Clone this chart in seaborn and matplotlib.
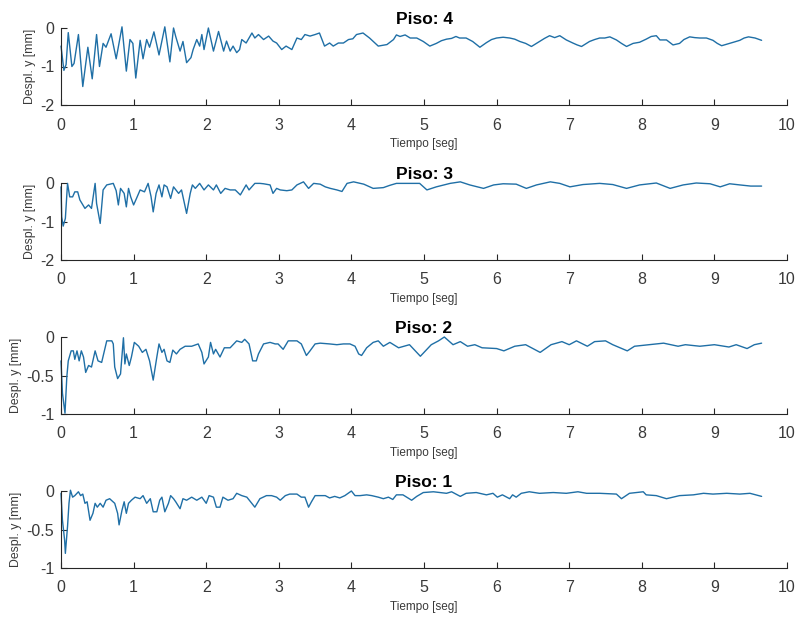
import matplotlib
matplotlib.use("Agg")
import matplotlib.pyplot as plt
import seaborn as sns
import pandas as pd

# ---------------- data (vertices) ----------------
t_piso4 = [0.00, 0.04, 0.07, 0.10, 0.15, 0.18, 0.24, 0.30, 0.37, 0.43,
           0.49, 0.53, 0.58, 0.62, 0.69, 0.76, 0.84, 0.90, 0.95, 0.99,
           1.03, 1.09, 1.13, 1.18, 1.22, 1.28, 1.35, 1.43, 1.50, 1.55,
           1.58, 1.64, 1.68, 1.73, 1.79, 1.82, 1.87, 1.91, 1.94, 1.97,
           2.03, 2.10, 2.17, 2.24, 2.28, 2.33, 2.37, 2.42, 2.46, 2.49,
           2.55, 2.63, 2.67, 2.72, 2.79, 2.86, 2.92, 2.97, 3.04, 3.10,
           3.18, 3.25, 3.31, 3.36, 3.43, 3.50, 3.56, 3.63, 3.70, 3.75,
           3.82, 3.89, 3.96, 4.02, 4.07, 4.16, 4.25, 4.37, 4.49, 4.58,
           4.62, 4.67, 4.74, 4.81, 4.90, 4.99, 5.08, 5.17, 5.24, 5.31,
           5.38, 5.44, 5.49, 5.58, 5.67, 5.77, 5.86, 5.93, 6.00, 6.09,
           6.18, 6.25, 6.32, 6.40, 6.48, 6.59, 6.66, 6.73, 6.80, 6.87,
           6.96, 7.05, 7.11, 7.17, 7.28, 7.35, 7.42, 7.49, 7.56, 7.65,
           7.72, 7.79, 7.88, 7.97, 8.06, 8.13, 8.20, 8.25, 8.34, 8.43,
           8.52, 8.58, 8.66, 8.73, 8.80, 8.89, 8.98, 9.04, 9.10, 9.21,
           9.28, 9.35, 9.41, 9.47, 9.56, 9.65]
y_piso4 = [-0.47, -1.10, -0.95, -0.12, -1.00, -0.92, -0.17, -1.52, -0.50, -1.32,
           -0.17, -1.00, -0.40, -0.50, -0.15, -0.80, 0.03, -1.12, -0.30, -0.40,
           -1.30, -0.32, -0.80, -0.30, -0.50, -0.10, -0.70, 0.03, -0.88, 0.00,
           -0.22, -0.60, -0.35, -0.90, -0.77, -0.56, -0.30, -0.47, -0.17, -0.56,
           0.00, -0.60, -0.09, -0.60, -0.34, -0.60, -0.47, -0.64, -0.56, -0.30,
           -0.39, -0.13, -0.26, -0.17, -0.30, -0.21, -0.34, -0.39, -0.56, -0.47,
           -0.56, -0.26, -0.30, -0.17, -0.21, -0.17, -0.13, -0.47, -0.39, -0.47,
           -0.39, -0.39, -0.30, -0.28, -0.17, -0.13, -0.26, -0.47, -0.43, -0.30,
           -0.18, -0.22, -0.18, -0.26, -0.26, -0.35, -0.47, -0.40, -0.33, -0.29,
           -0.27, -0.22, -0.26, -0.26, -0.35, -0.50, -0.38, -0.30, -0.26, -0.24,
           -0.26, -0.29, -0.35, -0.40, -0.48, -0.35, -0.27, -0.20, -0.25, -0.20,
           -0.31, -0.39, -0.44, -0.48, -0.35, -0.30, -0.26, -0.26, -0.23, -0.31,
           -0.40, -0.48, -0.40, -0.37, -0.29, -0.22, -0.20, -0.31, -0.31, -0.44,
           -0.40, -0.30, -0.23, -0.25, -0.26, -0.26, -0.32, -0.40, -0.46, -0.40,
           -0.36, -0.32, -0.26, -0.23, -0.26, -0.32]

t_piso3 = [0.00, 0.01, 0.03, 0.06, 0.09, 0.12, 0.16, 0.19, 0.23, 0.26,
           0.33, 0.38, 0.42, 0.47, 0.49, 0.54, 0.58, 0.63, 0.72, 0.76,
           0.79, 0.82, 0.87, 0.90, 0.93, 0.96, 1.00, 1.04, 1.09, 1.15,
           1.20, 1.24, 1.27, 1.31, 1.35, 1.39, 1.42, 1.46, 1.51, 1.55,
           1.62, 1.66, 1.73, 1.78, 1.81, 1.85, 1.91, 1.97, 2.03, 2.10,
           2.14, 2.20, 2.26, 2.33, 2.40, 2.47, 2.55, 2.59, 2.67, 2.74,
           2.79, 2.88, 2.92, 2.97, 3.02, 3.11, 3.18, 3.25, 3.34, 3.41,
           3.48, 3.57, 3.64, 3.71, 3.80, 3.87, 3.94, 4.03, 4.17, 4.30,
           4.44, 4.53, 4.62, 4.80, 4.94, 5.04, 5.17, 5.36, 5.50, 5.63,
           5.82, 5.96, 6.09, 6.27, 6.41, 6.55, 6.74, 6.87, 7.01, 7.19,
           7.42, 7.60, 7.79, 7.97, 8.20, 8.39, 8.57, 8.75, 8.94, 9.08,
           9.21, 9.35, 9.50, 9.65]
y_piso3 = [-0.10, -0.88, -1.12, -0.92, -0.01, -0.36, -0.36, -0.23, -0.23, -0.44,
           -0.66, -0.57, -0.66, -0.01, -0.53, -1.05, -0.18, -0.05, -0.01, -0.20,
           -0.57, -0.14, -0.27, -0.62, -0.14, -0.36, -0.57, -0.40, -0.18, -0.23,
           -0.01, -0.35, -0.75, -0.27, -0.05, -0.36, -0.05, -0.10, -0.40, -0.10,
           -0.27, -0.18, -0.79, -0.27, -0.05, -0.14, -0.01, -0.18, -0.05, -0.18,
           -0.05, -0.27, -0.14, -0.18, -0.18, -0.31, -0.05, -0.18, -0.01, -0.01,
           -0.02, -0.05, -0.27, -0.14, -0.18, -0.20, -0.18, -0.05, 0.03, -0.14,
           -0.01, -0.03, -0.10, -0.14, -0.18, -0.22, -0.01, 0.03, -0.03, -0.14,
           -0.12, -0.06, -0.01, -0.01, -0.01, -0.18, -0.10, -0.01, 0.03, -0.05,
           -0.14, -0.05, -0.02, -0.03, -0.14, -0.05, 0.03, -0.01, -0.10, -0.04,
           -0.01, -0.04, -0.14, -0.05, 0.00, -0.14, -0.05, 0.00, -0.02, -0.10,
           -0.02, -0.05, -0.08, -0.08]

t_piso2 = [0.00, 0.02, 0.055, 0.08, 0.10, 0.14, 0.17, 0.19, 0.22, 0.25,
           0.28, 0.31, 0.34, 0.38, 0.42, 0.47, 0.51, 0.56, 0.63, 0.70,
           0.72, 0.74, 0.78, 0.82, 0.86, 0.88, 0.90, 0.94, 0.97, 1.01,
           1.07, 1.12, 1.17, 1.22, 1.27, 1.32, 1.35, 1.39, 1.42, 1.46,
           1.50, 1.54, 1.59, 1.64, 1.71, 1.80, 1.89, 1.94, 1.97, 2.03,
           2.06, 2.10, 2.13, 2.19, 2.25, 2.33, 2.42, 2.49, 2.53, 2.59,
           2.64, 2.69, 2.72, 2.79, 2.88, 2.95, 2.99, 3.06, 3.13, 3.25,
           3.31, 3.38, 3.43, 3.50, 3.57, 3.70, 3.80, 3.89, 3.98, 4.05,
           4.10, 4.14, 4.21, 4.30, 4.37, 4.44, 4.53, 4.65, 4.80, 4.95,
           5.10, 5.20, 5.28, 5.40, 5.50, 5.60, 5.70, 5.80, 6.00, 6.10,
           6.25, 6.40, 6.50, 6.60, 6.75, 6.90, 7.00, 7.10, 7.25, 7.35,
           7.50, 7.60, 7.80, 7.90, 8.10, 8.30, 8.50, 8.60, 8.80, 9.00,
           9.20, 9.30, 9.45, 9.55, 9.65]
y_piso2 = [-0.31, -0.73, -0.99, -0.52, -0.31, -0.18, -0.18, -0.29, -0.18, -0.31,
           -0.18, -0.26, -0.46, -0.37, -0.39, -0.18, -0.31, -0.33, -0.05, -0.05,
           -0.09, -0.39, -0.54, -0.48, -0.01, -0.35, -0.22, -0.37, -0.26, -0.07,
           -0.12, -0.20, -0.16, -0.31, -0.56, -0.26, -0.09, -0.20, -0.16, -0.31,
           -0.33, -0.17, -0.22, -0.16, -0.12, -0.12, -0.09, -0.20, -0.35, -0.26,
           -0.07, -0.22, -0.16, -0.26, -0.14, -0.14, -0.05, -0.07, -0.03, -0.09,
           -0.31, -0.31, -0.22, -0.09, -0.07, -0.09, -0.09, -0.16, -0.05, -0.05,
           -0.09, -0.24, -0.18, -0.09, -0.08, -0.09, -0.10, -0.09, -0.09, -0.12,
           -0.22, -0.24, -0.14, -0.07, -0.05, -0.12, -0.07, -0.14, -0.10, -0.25,
           -0.10, -0.05, 0.00, -0.10, -0.06, -0.12, -0.10, -0.14, -0.15, -0.18,
           -0.12, -0.10, -0.15, -0.20, -0.10, -0.06, -0.10, -0.05, -0.12, -0.06,
           -0.05, -0.10, -0.18, -0.12, -0.10, -0.08, -0.12, -0.10, -0.12, -0.10,
           -0.13, -0.10, -0.15, -0.10, -0.08]

t_piso1 = [0.00, 0.02, 0.05, 0.06, 0.09, 0.11, 0.13, 0.16, 0.19, 0.24,
           0.27, 0.30, 0.33, 0.36, 0.40, 0.44, 0.47, 0.50, 0.54, 0.58,
           0.62, 0.67, 0.74, 0.78, 0.80, 0.84, 0.87, 0.90, 0.93, 0.97,
           1.02, 1.09, 1.13, 1.18, 1.23, 1.27, 1.32, 1.36, 1.39, 1.43,
           1.48, 1.51, 1.55, 1.58, 1.64, 1.68, 1.73, 1.80, 1.87, 1.94,
           2.00, 2.04, 2.10, 2.14, 2.19, 2.23, 2.30, 2.37, 2.42, 2.49,
           2.56, 2.61, 2.67, 2.74, 2.83, 2.90, 2.97, 3.02, 3.09, 3.15,
           3.25, 3.31, 3.36, 3.41, 3.45, 3.50, 3.57, 3.64, 3.70, 3.77,
           3.84, 3.91, 4.00, 4.05, 4.12, 4.21, 4.28, 4.37, 4.44, 4.51,
           4.57, 4.62, 4.71, 4.83, 4.90, 4.99, 5.13, 5.31, 5.38, 5.50,
           5.58, 5.72, 5.86, 5.95, 6.01, 6.08, 6.18, 6.22, 6.27, 6.34,
           6.45, 6.59, 6.78, 6.96, 7.12, 7.24, 7.42, 7.65, 7.72, 7.83,
           7.92, 8.02, 8.06, 8.20, 8.34, 8.52, 8.71, 8.85, 8.98, 9.17,
           9.35, 9.49, 9.65]
y_piso1 = [-0.03, -0.38, -0.64, -0.81, -0.46, -0.16, 0.01, -0.08, -0.06, -0.01,
           -0.06, -0.04, -0.16, -0.14, -0.38, -0.29, -0.16, -0.21, -0.16, -0.21,
           -0.12, -0.10, -0.16, -0.29, -0.44, -0.25, -0.14, -0.29, -0.16, -0.12,
           -0.08, -0.10, -0.06, -0.16, -0.10, -0.27, -0.27, -0.12, -0.08, -0.27,
           -0.16, -0.06, -0.10, -0.14, -0.23, -0.10, -0.12, -0.08, -0.12, -0.08,
           -0.16, -0.06, -0.08, -0.21, -0.21, -0.08, -0.12, -0.10, -0.03, -0.06,
           -0.08, -0.14, -0.21, -0.10, -0.06, -0.06, -0.08, -0.12, -0.06, -0.04,
           -0.04, -0.08, -0.08, -0.21, -0.14, -0.06, -0.06, -0.06, -0.09, -0.07,
           -0.09, -0.06, 0.00, -0.06, -0.06, -0.05, -0.06, -0.08, -0.10, -0.08,
           -0.11, -0.05, -0.05, -0.12, -0.07, -0.02, -0.01, -0.03, -0.01, -0.07,
           -0.03, -0.02, -0.05, -0.03, -0.08, -0.05, -0.10, -0.05, -0.08, -0.03,
           -0.01, -0.03, -0.02, -0.03, -0.01, -0.03, -0.03, -0.04, -0.10, -0.03,
           -0.02, -0.01, -0.05, -0.06, -0.10, -0.06, -0.05, -0.03, -0.04, -0.03,
           -0.04, -0.03, -0.07]

titles = ["Piso: 4", "Piso: 3", "Piso: 2", "Piso: 1"]
x_ticks = [0, 1, 2, 3, 4, 5, 6, 7, 8, 9, 10]
y_ticks_big = [-2, -1, 0]
y_ticklabels_big = ["-2", "-1", "0"]
y_ticks_small = [-1, -0.5, 0]
y_ticklabels_small = ["-1", "-0.5", "0"]
x_label = "Tiempo [seg]"
y_label = "Despl. y [mm]"

# ---------------- styling ----------------
sns.set_style("ticks")
plt.rcParams["font.family"] = ["Liberation Sans", "DejaVu Sans"]
plt.rcParams["axes.unicode_minus"] = False

line_color = "#1f6fa6"
ink = "#262626"
label_ink = "#3a3a3a"

fig = plt.figure(figsize=(7.99, 6.18), dpi=100)

W, H = 799.0, 618.0
left_px, right_px = 61, 787
panels = [
    (t_piso4, y_piso4, 28, 105, (-2, 0), y_ticks_big, y_ticklabels_big),
    (t_piso3, y_piso3, 183, 260, (-2, 0), y_ticks_big, y_ticklabels_big),
    (t_piso2, y_piso2, 337, 414, (-1, 0), y_ticks_small, y_ticklabels_small),
    (t_piso1, y_piso1, 491, 568, (-1, 0), y_ticks_small, y_ticklabels_small),
]

for (tt, yy, top_px, bot_px, ylim, yt, ytl), title in zip(panels, titles):
    ax = fig.add_axes([left_px / W, 1 - bot_px / H,
                       (right_px - left_px) / W, (bot_px - top_px) / H])
    df = pd.DataFrame({"t": tt, "y": yy})
    sns.lineplot(data=df, x="t", y="y", ax=ax, color=line_color,
                 linewidth=1.0, estimator=None, sort=False, clip_on=False)
    ax.set_xlim(0, 10)
    ax.set_ylim(*ylim)
    ax.set_xticks(x_ticks)
    ax.set_xticklabels([str(v) for v in x_ticks])
    ax.set_yticks(yt)
    ax.set_yticklabels(ytl)
    for s in ["top", "right"]:
        ax.spines[s].set_visible(False)
    for s in ["left", "bottom"]:
        ax.spines[s].set_color(ink)
        ax.spines[s].set_linewidth(0.8)
    ax.tick_params(axis="both", direction="in", length=4, width=0.8,
                   color=ink, labelcolor=label_ink, labelsize=11.5)
    ax.tick_params(axis="x", pad=9)
    ax.tick_params(axis="y", pad=5)
    ax.set_xlabel(x_label, fontsize=8.5, color=label_ink, labelpad=4)
    ax.set_ylabel(y_label, fontsize=8.8, color=label_ink, labelpad=3)
    ax.set_title(title, fontsize=12.5, fontweight="bold", color="black", pad=3)

fig.savefig("out.png", dpi=100)
